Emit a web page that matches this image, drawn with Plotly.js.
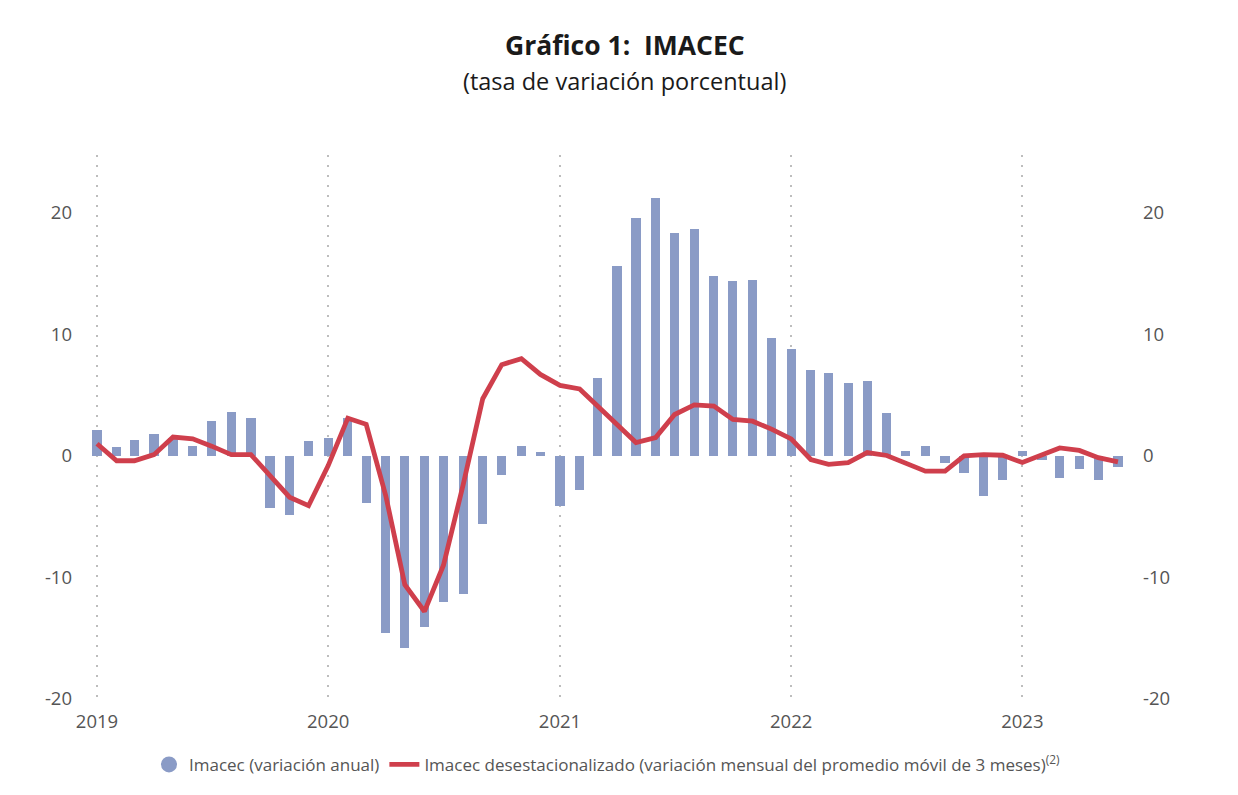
<!DOCTYPE html>
<html><head><meta charset="utf-8">
<script src="https://cdn.plot.ly/plotly-3.0.1.min.js"></script>
<style>html,body{margin:0;padding:0;background:#fff}#chart{width:1238px;height:795px}</style>
</head><body><div id="chart"></div>
<script>
const months = [
 "2019-01","2019-02","2019-03","2019-04","2019-05","2019-06","2019-07","2019-08","2019-09","2019-10","2019-11","2019-12",
 "2020-01","2020-02","2020-03","2020-04","2020-05","2020-06","2020-07","2020-08","2020-09","2020-10","2020-11","2020-12",
 "2021-01","2021-02","2021-03","2021-04","2021-05","2021-06","2021-07","2021-08","2021-09","2021-10","2021-11","2021-12",
 "2022-01","2022-02","2022-03","2022-04","2022-05","2022-06","2022-07","2022-08","2022-09","2022-10","2022-11","2022-12",
 "2023-01","2023-02","2023-03","2023-04","2023-05","2023-06"];
const imacecAnual = [
 2.1,0.7,1.3,1.8,1.5,0.8,2.9,3.6,3.1,-4.3,-4.9,1.2,
 1.5,3.1,-3.9,-14.6,-15.8,-14.1,-12.0,-11.4,-5.6,-1.6,0.8,0.3,
 -4.1,-2.8,6.4,15.6,19.6,21.2,18.3,18.7,14.8,14.4,14.5,9.7,
 8.8,7.1,6.8,6.0,6.2,3.5,0.4,0.8,-0.6,-1.4,-3.3,-2.0,
 0.4,-0.3,-1.8,-1.1,-2.0,-0.9];
const imacecDesest = [
 1.0,-0.4,-0.4,0.1,1.55,1.4,0.8,0.1,0.1,-1.6,-3.4,-4.1,
 -0.8,3.1,2.6,-3.3,-10.6,-12.8,-9.0,-2.4,4.7,7.5,8.0,6.7,
 5.8,5.5,4.1,2.5,1.1,1.5,3.4,4.2,4.1,3.0,2.85,2.2,
 1.4,-0.3,-0.7,-0.55,0.27,0.03,-0.65,-1.26,-1.26,0.0,0.1,0.05,
 -0.55,0.1,0.65,0.45,-0.15,-0.5];
const yearTicks = ["2019-01-01","2020-01-01","2021-01-01","2022-01-01","2023-01-01"];
const yearLabels = ["2019","2020","2021","2022","2023"];
const yTickVals = [-20,-10,0,10,20];
const yTickText = ["-20","-10","0","10","20"];
const nameBar = "Imacec (variación anual)";
const nameLine = "Imacec desestacionalizado (variación mensual del promedio móvil de 3 meses)<sup>(2)</sup>";

const dates = months.map(m => m + "-01");
const barColor = "#8a9bc6";
const lineColor = "#cf3f4c";
const DAY = 86400000;
const yr = [-20.33, 24.75];
const font = "'Open Sans', 'Noto Sans', sans-serif";
const tickColor = "#555555";

const traces = [
 {type:"bar", x:dates, y:imacecAnual, name:nameBar, marker:{color:barColor}, width:14.5*DAY, showlegend:false},
 {type:"scatter", mode:"markers", x:[null], y:[null], name:nameBar, marker:{color:barColor, symbol:"circle", size:16}, showlegend:true},
 {type:"scatter", mode:"lines", x:dates, y:imacecDesest, name:nameLine, line:{color:lineColor, width:4.8}, yaxis:"y2"}
];

const layout = {
 width:1238, height:795,
 margin:{l:85, r:108, t:155, b:90},
 paper_bgcolor:"#fff", plot_bgcolor:"#fff",
 font:{family:font, color:tickColor, size:17},
 bargap:0,
 xaxis:{type:"date", range:["2018-12-13","2023-06-20"], tickvals:yearTicks, ticktext:yearLabels,
   showgrid:true, gridcolor:"#bdbdbd", griddash:"2px,8px", gridwidth:2, zeroline:false, showline:false,
   ticks:"", ticklabelstandoff:5, tickfont:{size:18.5, color:tickColor}},
 yaxis:{range:yr, tickvals:yTickVals, ticktext:yTickText, showgrid:false, zeroline:false, showline:false,
   ticks:"", ticklabelstandoff:12, tickfont:{size:18.5, color:tickColor}},
 yaxis2:{range:yr, overlaying:"y", side:"right", tickvals:yTickVals, ticktext:yTickText, showgrid:false, zeroline:false,
   showline:false, ticks:"", ticklabelstandoff:12, tickfont:{size:18.5, color:tickColor}},
 legend:{orientation:"h", x:0.5, xanchor:"center", y:-0.08, yanchor:"top", font:{size:17, color:tickColor},
   itemwidth:30, itemclick:false},
 annotations:[
  {text:"<b>Gráfico 1:  IMACEC</b>", xref:"paper", yref:"paper", x:0.5, y:1, xanchor:"center", yanchor:"middle",
   showarrow:false, font:{size:26.5, color:"#1a1a1a", family:font}, xshift:17, yshift:155-45},
  {text:"(tasa de variación porcentual)", xref:"paper", yref:"paper", x:0.5, y:1, xanchor:"center", yanchor:"middle",
   showarrow:false, font:{size:23.5, color:"#1a1a1a", family:font}, xshift:17, yshift:155-81}
 ]
};
Plotly.newPlot("chart", traces, layout, {displayModeBar:false, staticPlot:true});
</script></body></html>
